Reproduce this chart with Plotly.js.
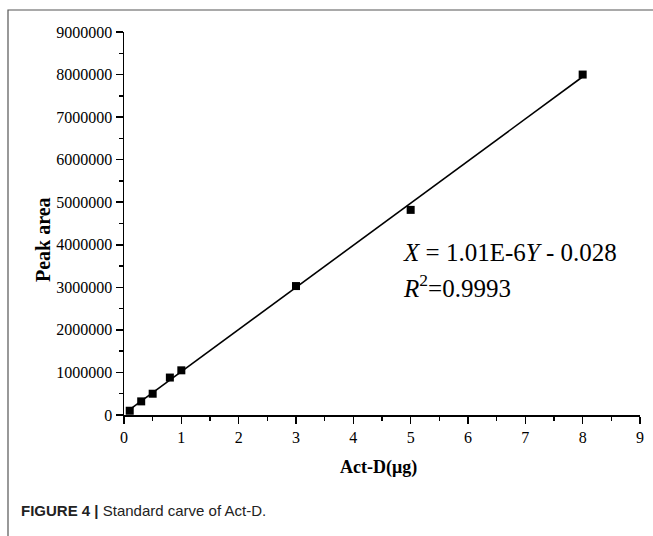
<!DOCTYPE html>
<html><head><meta charset="utf-8">
<script src="https://cdn.plot.ly/plotly-3.0.1.min.js"></script>
<style>html,body{margin:0;padding:0;background:#fff;}#chart{width:653px;height:536px;}</style>
</head><body><div id="chart"></div>
<script>
const actD = [0.1, 0.3, 0.5, 0.8, 1, 3, 5, 8];
const peakArea = [100000, 320000, 500000, 880000, 1050000, 3030000, 4820000, 8000000];
const fitSlope = 1.01e-6;      // X = slope*Y + intercept
const fitIntercept = -0.028;
const fitRange = [0.05, 8];
const xTicks = [0,1,2,3,4,5,6,7,8,9];
const yTicks = [0,1000000,2000000,3000000,4000000,5000000,6000000,7000000,8000000,9000000];

const fitX = fitRange;
const fitY = fitRange.map(x => (x - fitIntercept) / fitSlope);

const serif = "Liberation Serif, Times New Roman, serif";
const W = 653, H = 536, mL = 124, mR = 13, mT = 32, mB = 121;
const pw = W - mL - mR, ph = H - mT - mB;
const px = x => (x - mL) / pw, py = y => (H - mB - y) / ph;

const data = [
  {x: fitX, y: fitY, mode: 'lines', line: {color: '#000', width: 1.6}, hoverinfo: 'skip'},
  {x: actD, y: peakArea, mode: 'markers', marker: {symbol: 'square', size: 8, color: '#000'}}
];

const layout = {
  width: W, height: H, showlegend: false,
  margin: {l: mL, r: mR, t: mT, b: mB},
  paper_bgcolor: '#fff', plot_bgcolor: '#fff',
  font: {family: serif, color: '#000', size: 15},
  xaxis: {range: [0, 9], tickvals: xTicks, ticktext: xTicks.map(String),
    showgrid: false, zeroline: false, showline: true, linecolor: '#000', linewidth: 1.5,
    ticks: 'outside', ticklen: 7, tickwidth: 1.5, tickcolor: '#000',
    minor: {dtick: 0.5, ticks: 'outside', ticklen: 4, tickwidth: 1.5, tickcolor: '#000', showgrid: false},
    tickfont: {family: serif, size: 16}},
  yaxis: {range: [0, 9000000], tickvals: yTicks, ticktext: yTicks.map(String),
    showgrid: false, zeroline: false, showline: true, linecolor: '#000', linewidth: 1.5,
    ticks: 'outside', ticklen: 7, tickwidth: 1.5, tickcolor: '#000',
    minor: {dtick: 500000, ticks: 'outside', ticklen: 4, tickwidth: 1.5, tickcolor: '#000', showgrid: false},
    tickfont: {family: serif, size: 16}},
  shapes: [
    {type: 'rect', xref: 'paper', yref: 'paper', x0: px(8), x1: px(662), y0: py(545), y1: py(10),
     line: {color: '#555', width: 1.2}, fillcolor: 'rgba(0,0,0,0)'}
  ],
  annotations: [
    {xref: 'paper', yref: 'paper', x: px(43), y: py(240), xanchor: 'center', yanchor: 'middle', showarrow: false,
     textangle: -90, text: '<b>Peak area</b>', font: {family: serif, size: 20}},
    {xref: 'paper', yref: 'paper', x: px(378), y: py(468), xanchor: 'center', yanchor: 'middle', showarrow: false,
     text: '<b>Act-D(μg)</b>', font: {family: serif, size: 18}},
    {xref: 'paper', yref: 'paper', x: px(401), y: py(252), xanchor: 'left', yanchor: 'middle', showarrow: false,
     text: '<i>X</i> = 1.01E-6<i>Y</i> - 0.028', font: {family: serif, size: 25}},
    {xref: 'paper', yref: 'paper', x: px(401), y: py(286), xanchor: 'left', yanchor: 'middle', showarrow: false,
     text: '<i>R</i><sup>2</sup>=0.9993', font: {family: serif, size: 25}},
    {xref: 'paper', yref: 'paper', x: px(19), y: py(511), xanchor: 'left', yanchor: 'middle', showarrow: false,
     text: '<b>FIGURE 4 |</b> Standard carve of Act-D.',
     font: {family: 'Liberation Sans Narrow, Arial Narrow, Liberation Sans, sans-serif', size: 15, color: '#222'}}
  ]
};
Plotly.newPlot('chart', data, layout, {displayModeBar: false, staticPlot: true});
</script></body></html>
